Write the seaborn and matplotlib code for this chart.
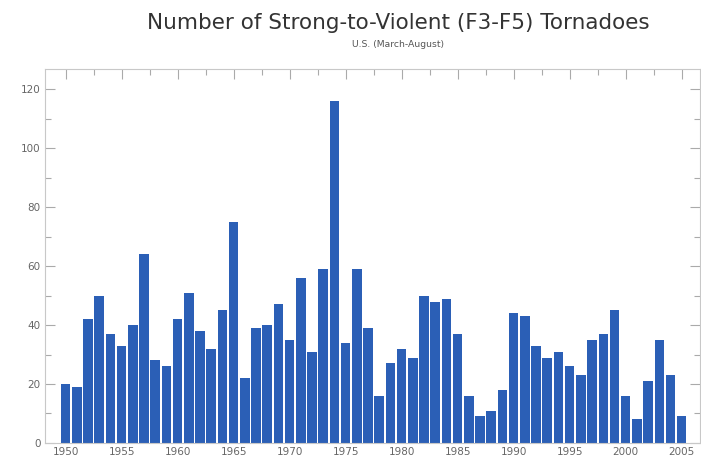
import pandas as pd
import matplotlib.pyplot as plt
import seaborn as sns
from matplotlib.ticker import MultipleLocator

# Dados: tornados F3-F5 por ano (EUA, março-agosto)
years = list(range(1950, 2006))
counts = [20, 19, 42, 50, 37, 33, 40, 64, 28, 26,
          42, 51, 38, 32, 45, 75, 22, 39, 40, 47,
          35, 56, 31, 59, 116, 34, 59, 39, 16, 27,
          32, 29, 50, 48, 49, 37, 16, 9, 11, 18,
          44, 43, 33, 29, 31, 26, 23, 35, 37, 45,
          16, 8, 21, 35, 23, 9]
x_ticks = [1950, 1955, 1960, 1965, 1970, 1975, 1980, 1985, 1990, 1995, 2000, 2005]
y_ticks = [0, 20, 40, 60, 80, 100, 120]

df = pd.DataFrame({'ano': years, 'tornados': counts})

sns.set_style("white")
plt.rcParams['font.family'] = ['DejaVu Sans']

fig = plt.figure(figsize=(7.01, 4.59), dpi=100)
ax = fig.add_axes([0.064, 0.035, 0.934, 0.815])

sns.barplot(x='ano', y='tornados', data=df, native_scale=True, width=0.85,
            color='#2b5fb6', saturation=1, edgecolor='none', ax=ax)

ax.set_xlim(1948.15, 2006.6)
ax.set_ylim(0, 127)
ax.set_xticks(x_ticks)
ax.set_xticklabels([str(t) for t in x_ticks])
ax.xaxis.set_minor_locator(MultipleLocator(2.5))
ax.set_yticks(y_ticks)
ax.yaxis.set_minor_locator(MultipleLocator(10))
ax.set_xlabel('')
ax.set_ylabel('')

for s in ax.spines.values():
    s.set_color('#c8c8c8')
    s.set_linewidth(0.8)

ax.tick_params(axis='both', which='both', direction='in', colors='#aaaaaa',
               labelcolor='#666666', labelsize=7.5)
ax.tick_params(axis='x', which='both', bottom=False, top=True, pad=3)
ax.tick_params(axis='y', which='both', left=True, right=True, pad=3)
ax.tick_params(which='major', length=7, width=0.8)
ax.tick_params(which='minor', length=4, width=0.8)

fig.text(0.568, 0.950, 'Number of Strong-to-Violent (F3-F5) Tornadoes',
         ha='center', va='center', fontsize=15.5, color='#333333')
fig.text(0.568, 0.902, 'U.S. (March-August)', ha='center', va='center',
         fontsize=6.7, color='#555555')

plt.savefig('out.png', dpi=100)
